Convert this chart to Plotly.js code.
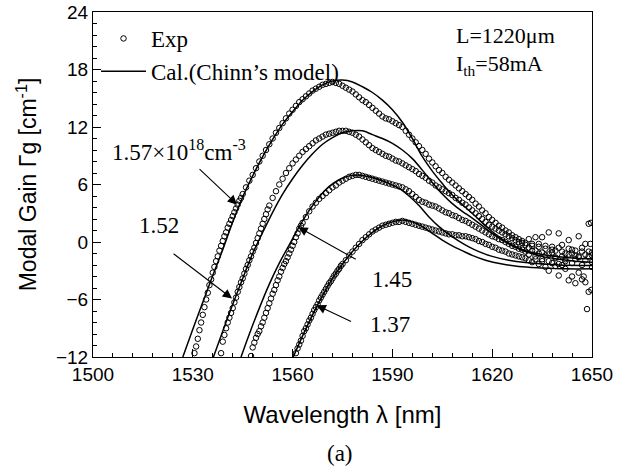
<!DOCTYPE html>
<html>
<head>
<meta charset="utf-8">
<script src="https://cdn.plot.ly/plotly-3.0.1.min.js"></script>
<style>
html,body{margin:0;padding:0;background:#fff;}
#chart{width:632px;height:476px;}
</style>
</head>
<body>
<div id="chart"></div>
<script>
// ---------------- data ----------------
const densityLabels = ["1.57×10<sup>18</sup>cm<sup>-3</sup>", "1.52", "1.45", "1.37"];

// Experimental points [wavelength nm, modal gain cm^-1]
const exp157 = [[1530.5,-11.6],[1531,-10.9],[1531.5,-10.1],[1532,-9.2],[1532.5,-8.4],[1533,-7.6],[1533.5,-6.8],[1534,-6.0],[1534.5,-5.3],[1535,-4.5],[1535.5,-3.9],[1536,-3.2],[1536.5,-2.6],[1537,-2.0],[1537.5,-1.5],[1538,-0.9],[1538.5,-0.4],[1539,0.1],[1539.5,0.6],[1540,1.0],[1540.5,1.5],[1541,1.9],[1541.5,2.3],[1542,2.7],[1542.5,3.1],[1543,3.5],[1543.5,3.9],[1544,4.3],[1544.5,4.6],[1545,5.0],[1546,5.7],[1547,6.4],[1548,7.0],[1549,7.7],[1550,8.4],[1551,9.0],[1552,9.6],[1553,10.2],[1554,10.8],[1555,11.4],[1556,11.9],[1557,12.4],[1558,12.9],[1559,13.4],[1560,13.8],[1561,14.2],[1562,14.6],[1563,14.9],[1564,15.2],[1565,15.5],[1566,15.8],[1567,16.0],[1568,16.2],[1569,16.4],[1570,16.5],[1571,16.6],[1572,16.7],[1573,16.6],[1574,16.5],[1575,16.3],[1576,16.1],[1577,15.9],[1578,15.7],[1579,15.4],[1580,15.1],[1581,14.8],[1582,14.6],[1583,14.3],[1584,14.0],[1585,13.7],[1586,13.4],[1587,13.1],[1588,12.9],[1589,12.8],[1590,12.6],[1591,12.4],[1592,12.2],[1593,12.0],[1594,11.6],[1595,11.2],[1596,10.8],[1597,10.4],[1598,10.0],[1599,9.6],[1600,9.2],[1601,8.7],[1602,8.3],[1603,7.9],[1604,7.5],[1605,7.2],[1606,6.8],[1607,6.5],[1608,6.2],[1609,5.9],[1610,5.6],[1611,5.3],[1612,5.0],[1613,4.7],[1614,4.4],[1615,4.0],[1616,3.7],[1617,3.3],[1618,3.0],[1619,2.6],[1620,2.3],[1621,2.0],[1622,1.7],[1623,1.5],[1624,1.2],[1625,1.0],[1626,0.7],[1627,0.5],[1628,0.3],[1629,0.1],[1630,-0.1],[1631,0.3],[1632,-0.4],[1633,0.5],[1634,-0.2],[1635,0.5],[1636,-0.7],[1637,1.0],[1638,-0.5],[1639,-0.9],[1640,0.9],[1641,-0.3],[1642,-1.2],[1643,0.2],[1644,-0.8],[1645,-1.4],[1646,0.6],[1647,-1.0],[1648,-0.2],[1649,1.9],[1650,-1.1]];

const exp152 = [[1538.5,-11.6],[1539,-10.4],[1539.5,-9.7],[1540,-9.0],[1540.5,-8.4],[1541,-7.9],[1541.5,-7.4],[1542,-6.9],[1542.5,-6.3],[1543,-5.8],[1543.5,-5.2],[1544,-4.7],[1544.5,-4.2],[1545,-3.8],[1545.5,-3.3],[1546,-2.8],[1546.5,-2.4],[1547,-1.9],[1547.5,-1.5],[1548,-1.0],[1548.5,-0.6],[1549,-0.1],[1549.5,0.4],[1550,0.9],[1550.5,1.4],[1551,1.9],[1551.5,2.4],[1552,2.9],[1552.5,3.4],[1553,3.8],[1554,4.6],[1555,5.3],[1556,6.0],[1557,6.6],[1558,7.2],[1559,7.7],[1560,8.2],[1561,8.6],[1562,9.0],[1563,9.4],[1564,9.7],[1565,10.0],[1566,10.3],[1567,10.6],[1568,10.8],[1569,11.0],[1570,11.2],[1571,11.3],[1572,11.4],[1573,11.5],[1574,11.6],[1575,11.6],[1576,11.6],[1577,11.5],[1578,11.4],[1579,11.2],[1580,11.0],[1581,10.7],[1582,10.4],[1583,10.1],[1584,9.8],[1585,9.6],[1586,9.4],[1587,9.2],[1588,9.0],[1589,8.9],[1590,8.7],[1591,8.5],[1592,8.4],[1593,8.2],[1594,8.0],[1595,7.8],[1596,7.6],[1597,7.4],[1598,7.1],[1599,6.9],[1600,6.7],[1601,6.4],[1602,6.2],[1603,5.9],[1604,5.7],[1605,5.5],[1606,5.3],[1607,5.1],[1608,4.9],[1609,4.6],[1610,4.4],[1611,4.1],[1612,3.9],[1613,3.6],[1614,3.3],[1615,3.0],[1616,2.7],[1617,2.4],[1618,2.1],[1619,1.8],[1620,1.6],[1621,1.4],[1622,1.2],[1623,1.0],[1624,0.8],[1625,0.6],[1626,0.4],[1627,0.2],[1628,0.0],[1629,-0.1],[1630,-0.3],[1631,-0.6],[1632,-0.2],[1633,-0.9],[1634,-0.5],[1635,-1.1],[1636,-0.4],[1637,-1.3],[1638,-0.8],[1639,-1.6],[1640,-0.6],[1641,-1.0],[1642,-1.8],[1643,-0.7],[1644,-1.2],[1645,-0.9],[1646,-1.5],[1647,-0.6],[1648,-1.3],[1649,-1.0],[1650,-1.4]];

const exp145 = [[1547.5,-11.9],[1548,-11.0],[1548.5,-10.5],[1549,-10.0],[1549.5,-9.6],[1550,-9.3],[1550.5,-8.8],[1551,-8.4],[1551.5,-7.9],[1552,-7.4],[1552.5,-6.9],[1553,-6.4],[1553.5,-5.9],[1554,-5.4],[1554.5,-5.0],[1555,-4.5],[1555.5,-4.0],[1556,-3.6],[1556.5,-3.1],[1557,-2.7],[1557.5,-2.3],[1558,-2.0],[1558.5,-1.6],[1559,-1.2],[1559.5,-0.8],[1560,-0.4],[1560.5,0.0],[1561,0.5],[1561.5,0.9],[1562,1.4],[1562.5,1.7],[1563,2.0],[1564,2.6],[1565,3.2],[1566,3.7],[1567,4.1],[1568,4.5],[1569,4.8],[1570,5.1],[1571,5.4],[1572,5.7],[1573,5.9],[1574,6.2],[1575,6.4],[1576,6.6],[1577,6.8],[1578,6.9],[1579,7.0],[1580,7.0],[1581,6.9],[1582,6.8],[1583,6.7],[1584,6.6],[1585,6.5],[1586,6.4],[1587,6.3],[1588,6.2],[1589,6.1],[1590,6.0],[1591,5.9],[1592,5.8],[1593,5.7],[1594,5.5],[1595,5.3],[1596,5.0],[1597,4.7],[1598,4.4],[1599,4.2],[1600,4.1],[1601,3.9],[1602,3.8],[1603,3.7],[1604,3.5],[1605,3.3],[1606,3.1],[1607,3.0],[1608,2.8],[1609,2.7],[1610,2.5],[1611,2.3],[1612,2.2],[1613,2.0],[1614,1.8],[1615,1.6],[1616,1.4],[1617,1.2],[1618,1.0],[1619,0.8],[1620,0.6],[1621,0.5],[1622,0.3],[1623,0.2],[1624,0.0],[1625,-0.2],[1626,-0.4],[1627,-0.5],[1628,-0.7],[1629,-0.8],[1630,-1.0],[1631,-1.3],[1632,-0.9],[1633,-1.5],[1634,-1.2],[1635,-1.8],[1636,-1.4],[1637,-2.0],[1638,-1.1],[1639,-1.7],[1640,-2.3],[1641,-1.5],[1642,-2.0],[1643,-1.3],[1644,-2.2],[1645,-1.8],[1646,-1.6],[1647,-2.4],[1648,-1.9],[1649,-1.5],[1650,-2.1]];

const exp137 = [[1561,-11.6],[1561.5,-11.1],[1562,-10.7],[1562.5,-10.3],[1563,-9.8],[1563.5,-9.3],[1564,-9.0],[1564.5,-8.6],[1565,-8.2],[1565.5,-7.9],[1566,-7.5],[1566.5,-7.1],[1567,-6.8],[1567.5,-6.5],[1568,-6.1],[1568.5,-5.8],[1569,-5.5],[1569.5,-5.2],[1570,-4.9],[1570.5,-4.6],[1571,-4.3],[1571.5,-4.1],[1572,-3.8],[1572.5,-3.5],[1573,-3.3],[1573.5,-3.0],[1574,-2.8],[1574.5,-2.5],[1575,-2.3],[1576,-1.9],[1577,-1.4],[1578,-1.0],[1579,-0.6],[1580,-0.2],[1581,0.2],[1582,0.5],[1583,0.8],[1584,1.1],[1585,1.3],[1586,1.5],[1587,1.7],[1588,1.8],[1589,1.9],[1590,2.0],[1591,2.1],[1592,2.1],[1593,2.2],[1594,2.1],[1595,2.0],[1596,1.9],[1597,1.8],[1598,1.7],[1599,1.6],[1600,1.5],[1601,1.4],[1602,1.3],[1603,1.2],[1604,1.1],[1605,1.0],[1606,0.9],[1607,0.8],[1608,0.8],[1609,0.7],[1610,0.7],[1611,0.6],[1612,0.6],[1613,0.5],[1614,0.4],[1615,0.3],[1616,0.1],[1617,0.0],[1618,-0.2],[1619,-0.3],[1620,-0.5],[1621,-0.6],[1622,-0.8],[1623,-0.9],[1624,-1.0],[1625,-1.2],[1626,-1.3],[1627,-1.4],[1628,-1.5],[1629,-1.6],[1630,-1.7],[1631,-1.9],[1632,-2.1],[1633,-1.8],[1634,-2.3],[1635,-2.0],[1636,-2.6],[1637,-3.0],[1638,-2.2],[1639,-2.5],[1640,-3.5],[1641,-2.4],[1642,-2.8],[1643,-4.0],[1644,-3.6],[1645,-4.3],[1646,-3.2],[1647,-3.9],[1648,-4.2],[1649,-5.2],[1650,-2.6],[1648.5,-7.0],[1649.8,-5.0],[1649.5,-0.2],[1647.5,-3.6],[1649.7,2.0]];

// Calculated curves (Chinn's model)
const cal157 = [[1527,-12],[1530,-9.1],[1533,-6.3],[1536,-3.5],[1539,-0.8],[1542,2.1],[1545,4.7],[1548,6.9],[1551,8.9],[1554,10.7],[1557,12.3],[1560,13.6],[1563,14.8],[1566,15.7],[1569,16.4],[1572,16.8],[1575,16.9],[1578,16.7],[1581,16.2],[1584,15.6],[1587,14.8],[1590,13.8],[1593,12.5],[1596,10.8],[1599,8.9],[1602,7.4],[1605,6.1],[1608,4.9],[1611,3.9],[1614,3.0],[1617,2.0],[1620,1.1],[1623,0.3],[1626,-0.3],[1630,-0.9],[1635,-1.3],[1640,-1.55],[1645,-1.7],[1650,-1.75]];
const cal152 = [[1536.2,-12],[1539,-9.3],[1542,-6.5],[1545,-3.8],[1548,-1.2],[1551,1.0],[1554,3.1],[1557,5.0],[1560,6.6],[1563,8.0],[1566,9.2],[1569,10.2],[1572,10.9],[1575,11.4],[1578,11.6],[1581,11.6],[1584,11.2],[1587,10.8],[1590,10.3],[1593,9.6],[1596,8.7],[1599,7.5],[1602,6.2],[1605,5.0],[1608,4.0],[1611,3.2],[1614,2.5],[1617,1.7],[1620,0.9],[1623,0.2],[1626,-0.4],[1630,-1.0],[1635,-1.5],[1640,-1.8],[1645,-2.0],[1650,-2.1]];
const cal145 = [[1544.5,-12],[1547,-9.6],[1550,-6.9],[1553,-4.4],[1556,-2.2],[1559,-0.3],[1562,1.6],[1565,3.3],[1568,4.7],[1571,5.8],[1574,6.5],[1577,6.9],[1580,7.0],[1583,6.8],[1586,6.5],[1589,6.1],[1592,5.6],[1595,4.8],[1598,3.8],[1601,2.6],[1604,1.6],[1607,0.8],[1610,0.1],[1613,-0.5],[1616,-1.0],[1620,-1.5],[1625,-1.9],[1630,-2.15],[1635,-2.3],[1640,-2.4],[1650,-2.45]];
const cal137 = [[1560.2,-12],[1563,-9.8],[1566,-7.6],[1569,-5.6],[1572,-3.8],[1575,-2.3],[1578,-1.0],[1581,0.1],[1584,1.0],[1587,1.7],[1590,2.1],[1593,2.3],[1596,2.1],[1599,1.6],[1602,0.9],[1605,0.2],[1608,-0.4],[1611,-0.9],[1614,-1.4],[1618,-1.9],[1623,-2.3],[1628,-2.55],[1635,-2.7],[1642,-2.8],[1650,-2.8]];

// arrow head positions on the curves [wavelength, gain]
const arrowHeads = [[1543.3,3.9],[1541.8,-5.9],[1561.7,1.55],[1567.2,-6.6]];

const xTicks = [1500,1530,1560,1590,1620,1650];
const yTicks = [-12,-6,0,6,12,18,24];

// ---------------- traces ----------------
const SERIF = "Liberation Serif, Times New Roman, serif";
const SANS = "Liberation Sans, Arial, sans-serif";
const expSets = [exp157, exp152, exp145, exp137];
const calSets = [cal157, cal152, cal145, cal137];
const traces = [];
expSets.forEach((s,i)=>{
  traces.push({
    type:'scatter', mode:'markers', name:'Exp', showlegend:i===0, legendrank:1,
    x:s.map(p=>p[0]), y:s.map(p=>p[1]),
    marker:{symbol:'circle-open', size:5.5, color:'#000', line:{width:1,color:'#000'}}
  });
});
calSets.forEach((s,i)=>{
  traces.push({
    type:'scatter', mode:'lines', name:"Cal.(Chinn’s model)", showlegend:i===0, legendrank:2,
    x:s.map(p=>p[0]), y:s.map(p=>p[1]),
    line:{color:'#000', width:1.5, shape:'spline', smoothing:1}
  });
});

// ---------------- layout ----------------
const L=93, R=40, T=12, B=119;
const PW=632-L-R, PH=476-T-B;
const px2x = v => (v-L)/PW;       // pixel -> paper x
const py2y = v => (476-B-v)/PH;   // pixel -> paper y

const textPos = [[110,150],[137,225],[370,279],[368,324]];
const arrowTails = [[-39,-37],[-60,-46],[59,33],[36,17]];
const annotations = [];
densityLabels.forEach((t,i)=>{
  annotations.push({xref:'paper', yref:'paper', x:px2x(textPos[i][0]), y:py2y(textPos[i][1]),
    xanchor:'left', yanchor:'middle', text:t, showarrow:false, font:{family:SERIF,size:23,color:'#000'}});
  annotations.push({x:arrowHeads[i][0], y:arrowHeads[i][1], xref:'x', yref:'y', text:'',
    showarrow:true, arrowhead:2, arrowsize:1.7, arrowwidth:1.1, arrowcolor:'#000',
    ax:arrowTails[i][0], ay:arrowTails[i][1], standoff:0});
});
annotations.push({xref:'paper', yref:'paper', x:px2x(455), y:py2y(49), xanchor:'left', yanchor:'bottom',
  text:'L=1220μm', showarrow:false, font:{family:SERIF,size:22,color:'#000'}, borderpad:0});
annotations.push({xref:'paper', yref:'paper', x:px2x(455), y:py2y(50), xanchor:'left', yanchor:'top',
  text:'I<sub>th</sub>=58mA', showarrow:false, font:{family:SERIF,size:22,color:'#000'}, borderpad:0});
annotations.push({xref:'paper', yref:'paper', x:px2x(340), y:py2y(453), xanchor:'center', yanchor:'middle',
  text:'(a)', showarrow:false, font:{family:SERIF,size:23,color:'#000'}});

const layout = {
  width:632, height:476,
  margin:{l:L, r:R, t:T, b:B, pad:0},
  paper_bgcolor:'#fff', plot_bgcolor:'#fff',
  showlegend:true,
  legend:{x:px2x(96), y:py2y(17), xanchor:'left', yanchor:'top', bgcolor:'rgba(0,0,0,0)',
    font:{family:SERIF, size:23, color:'#000'}, itemwidth:45, tracegroupgap:0, traceorder:'normal'},
  xaxis:{range:[1500,1650], tickvals:xTicks, ticks:'inside', ticklen:8, tickwidth:1, tickcolor:'#000',
    showline:true, linecolor:'#000', linewidth:1, mirror:true, showgrid:false, zeroline:false,
    tickfont:{family:SANS, size:19, color:'#000'},
    minor:{dtick:6, tick0:1500, ticks:'inside', ticklen:4, tickcolor:'#000', showgrid:false},
    title:{text:'Wavelength λ [nm]', font:{family:SANS,size:24,color:'#000'}, standoff:22}},
  yaxis:{range:[-12,24], tickvals:yTicks, ticks:'inside', ticklen:8, tickwidth:1, tickcolor:'#000',
    showline:true, linecolor:'#000', linewidth:1, mirror:true, showgrid:false, zeroline:false,
    tickfont:{family:SANS, size:19, color:'#000'},
    minor:{dtick:1.2, tick0:-12, ticks:'inside', ticklen:4, tickcolor:'#000', showgrid:false},
    title:{text:'Modal Gain Γg [cm<sup>-1</sup>]', font:{family:SANS,size:23,color:'#000'}, standoff:12}},
  annotations:annotations
};

Plotly.newPlot('chart', traces, layout, {staticPlot:true, displayModeBar:false});
</script>
</body>
</html>
